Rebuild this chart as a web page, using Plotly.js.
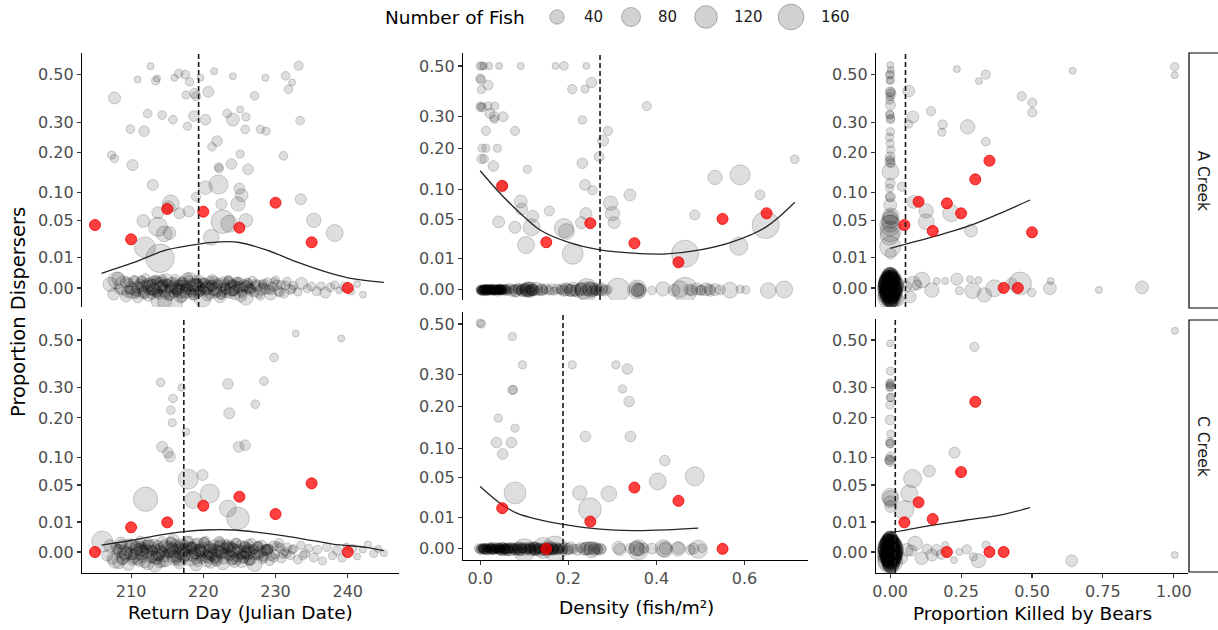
<!DOCTYPE html>
<html><head><meta charset="utf-8">
<script src="https://cdn.plot.ly/plotly-3.0.1.min.js"></script>
<style>html,body{margin:0;padding:0;background:#fff}#chart{width:1218px;height:630px}</style>
</head><body><div id="chart"></div>
<script>
// ---------- shared scale / tick data ----------
const yTickP = [0, 0.01, 0.05, 0.1, 0.2, 0.3, 0.5];
const yTickText = ['0.00','0.01','0.05','0.10','0.20','0.30','0.50'];
const dayTicks = [210, 220, 230, 240];
const densTicks = [0, 0.2, 0.4, 0.6];
const densTickText = ['0.0','0.2','0.4','0.6'];
const bearTicks = [0, 0.25, 0.5, 0.75, 1];
const bearTickText = ['0.00','0.25','0.50','0.75','1.00'];
const legendFish = [40, 80, 120, 160];
const creeks = ['A Creek', 'C Creek'];

// ---------- A Creek : Return Day ----------
const tlUpX = [212.7,210.9,213.4,213.6,216.0,216.6,217.5,218.1,219.6,221.5,
224.1,228.6,231.4,233.2,232.3,231.8,207.7,218.8,219.0,217.6,
220.7,227.1,212.3,214.3,215.8,218.7,220.3,223.3,224.1,225.1,
225.9,233.4,209.9,211.8,217.8,225.8,227.9,228.7,221.9,221.2,
207.3,207.7,210.2,225.1,231.1,222.1,222.2,223.9,226.2,213.0,
220.3,222.1,225.0,225.3,219.0,233.5,215.5,215.2,213.7,216.7,
218.0,222.5,224.8,211.7,213.7,214.6,215.3,222.7,223.6,225.9,
235.3,238.2,221.1,211.9,214.0];
const tlUpP = [0.538,0.475,0.469,0.480,0.483,0.503,0.498,0.465,0.483,0.514,
0.490,0.483,0.492,0.540,0.462,0.432,0.395,0.414,0.402,0.407,
0.421,0.404,0.333,0.327,0.310,0.323,0.310,0.333,0.310,0.348,
0.320,0.306,0.276,0.269,0.286,0.275,0.275,0.269,0.236,0.218,
0.193,0.183,0.165,0.196,0.191,0.160,0.156,0.168,0.154,0.116,
0.110,0.117,0.108,0.094,0.091,0.086,0.078,0.072,0.062,0.061,
0.064,0.077,0.077,0.049,0.041,0.032,0.033,0.048,0.045,0.050,
0.050,0.033,0.028,0.018,0.0096];
const tlUpN = [5,5,8,5,5,10,10,8,5,5,
5,5,10,12,5,10,25,15,12,8,
20,10,10,10,10,18,18,10,30,5,
8,10,10,18,8,10,8,8,18,10,
8,8,20,8,10,10,10,18,18,20,
35,80,20,30,12,20,60,25,25,20,
20,20,40,30,80,50,30,130,60,35,
40,60,50,100,200];
const tlZeroX = [207.1,207.6,208.0,208.4,208.2,209.0,209.3,209.7,210.2,210.5,
210.9,211.1,211.5,211.8,212.0,212.3,212.6,212.9,213.1,213.4,
213.7,213.9,214.2,214.4,214.7,214.9,215.2,215.4,215.6,215.9,
216.1,216.4,216.6,216.9,217.1,217.4,217.6,217.9,218.1,218.4,
218.6,218.9,219.1,219.4,219.6,219.9,220.1,220.4,220.7,220.9,
221.2,221.5,221.8,222.1,222.3,222.6,222.9,223.2,223.5,223.8,
224.1,224.4,224.7,225.0,225.3,225.6,225.9,226.2,226.5,226.8,
227.1,227.5,227.9,228.2,228.6,228.9,229.3,229.6,230.0,230.4,
230.8,231.2,231.6,232.0,232.5,233.1,233.6,234.4,235.0,235.7,
236.3,236.9,237.6,238.2,238.8,239.5,240.5,241.3,242.1,214.0,
216.8,219.0,221.6,224.0,212.2,209.5,226.0,228.0,230.2,218.0,
209.2,209.8,210.4,210.7,211.0,211.4,211.7,212.1,212.4,212.8,
213.2,213.5,213.8,214.1,214.3,214.6,215.0,215.3,215.7,216.0,
216.3,216.7,217.0,217.3,217.7,218.0,218.3,218.8,219.2,219.5,
219.8,220.2,220.6,221.0,221.3,221.7,222.0,222.4,222.8,223.1,
223.4,223.7,224.0,224.3,224.6,225.2,225.5,226.1,226.6,227.2,
227.7,228.4,229.0,229.8,230.6,231.4,232.3,210.0,216.2,220.5,
210.6,211.2,211.9,212.5,213.0,213.6,214.1,214.8,215.3,215.9,
216.5,217.0,217.5,218.2,218.7,219.3,219.8,220.3,220.9,221.4,
222.0,222.5,223.0,223.6,224.2,224.8,225.4,226.0,226.7,227.3,
211.6,212.7,214.4,216.0,217.8,219.6,221.2,223.2,225.0,226.4,
213.3,215.1,218.5,220.0,222.7,224.5,228.3,229.4,210.9,217.2];
const tlZeroJ = [0.012,-0.020,0.025,-0.004,0.031,0.008,-0.028,0.018,-0.010,0.027,
-0.031,0.005,0.022,-0.015,0.033,-0.006,0.014,-0.024,0.002,0.029,
-0.012,0.019,-0.040,0.007,-0.022,0.026,-0.003,-0.046,0.015,-0.018,
0.030,-0.008,0.011,-0.027,0.021,0.000,-0.016,0.034,-0.005,0.017,
-0.024,0.009,0.028,-0.011,0.004,-0.035,0.020,-0.002,0.013,-0.020,
0.006,0.024,-0.014,0.017,-0.029,0.003,0.010,-0.018,0.026,-0.006,
0.014,-0.023,0.001,0.021,-0.012,0.008,-0.033,0.016,-0.004,0.025,
-0.015,0.007,-0.026,0.012,-0.003,0.019,-0.020,0.004,0.026,-0.010,
0.010,-0.018,0.022,-0.005,0.008,-0.013,0.015,-0.002,0.005,-0.011,
0.006,-0.015,0.002,0.010,-0.008,0.004,-0.012,0.013,-0.022,0.010,
-0.010,0.002,-0.004,-0.001,0.008,-0.012,0.003,-0.006,0.010,0.020,
0.018,-0.006,0.022,-0.019,0.003,0.027,-0.013,0.010,-0.026,0.016,
-0.004,0.024,-0.021,0.006,0.030,-0.009,0.014,-0.024,0.002,0.020,
-0.015,0.008,-0.030,0.018,-0.002,0.026,-0.012,0.011,-0.020,0.023,
-0.007,0.015,-0.025,0.005,0.028,-0.014,0.009,-0.022,0.019,-0.003,
0.025,-0.017,0.012,-0.008,0.021,-0.026,0.004,0.016,-0.013,0.007,
-0.019,0.013,-0.006,0.018,-0.015,0.009,-0.004,0.000,-0.002,0.001,
-0.010,0.014,-0.020,0.006,0.024,-0.016,0.002,0.018,-0.026,0.010,
-0.004,0.020,-0.014,0.008,-0.022,0.016,0.000,-0.012,0.024,-0.006,
0.012,-0.024,0.004,0.018,-0.010,0.022,-0.018,0.006,-0.002,0.014,
0.004,-0.008,0.010,-0.004,0.006,-0.010,0.008,-0.006,0.002,-0.002,
-0.016,0.012,-0.018,0.015,-0.014,0.011,0.005,-0.008,-0.015,0.010];
const tlZeroN = [40,25,60,15,30,80,20,12,45,10,
20,8,15,30,10,12,25,8,50,10,
15,10,100,20,12,30,8,150,25,10,
12,20,10,35,15,8,25,12,18,10,
15,30,10,20,12,60,8,25,10,15,
20,10,12,15,25,8,18,10,12,30,
10,15,20,8,12,25,40,10,15,8,
12,20,10,8,15,10,25,12,8,15,
10,12,8,15,10,8,25,8,10,12,
8,20,10,8,5,12,5,5,5,60,
40,50,30,45,35,25,30,20,15,80,
15,10,20,12,25,10,15,12,20,10,
25,12,15,20,10,30,12,15,20,10,
12,25,15,10,20,12,15,25,10,20,
12,15,20,10,15,25,12,10,20,15,
10,20,12,15,10,25,12,15,10,12,
10,15,12,10,12,10,8,30,25,30,
12,15,10,20,12,15,25,10,15,12,
20,10,15,12,20,10,15,12,10,20,
15,10,12,20,15,10,12,15,10,12,
20,15,20,15,20,15,20,15,20,15,
10,12,10,12,10,12,10,8,10,12];
const tlRedX = [205, 210, 215, 220, 225, 230, 235, 240];
const tlRedP = [0.0433, 0.0259, 0.0682, 0.0636, 0.0397, 0.0795, 0.0228, 0];
const tlFitX = [205.9,210.2,214.9,219.35,223.2,225.0,228.7,233.3,237.9,240.6,245.0];
const tlFitP = [0.00236,0.00683,0.0158,0.0211,0.0234,0.0226,0.0158,0.00683,0.00214,0.00094,0.00035];
const tlMedian = 219.35;

// ---------- A Creek : Density ----------
const tmUpX = [0.000,0.004,0.008,0.020,0.043,0.092,0.171,0.190,0.241,0.000,
0.002,0.018,0.003,0.253,0.209,0.238,0.378,0.000,0.005,0.002,
0.018,0.033,0.022,0.032,0.052,0.032,0.013,0.079,0.290,0.232,
0.279,0.004,0.013,0.039,0.003,0.009,0.270,0.714,0.030,0.107,
0.232,0.590,0.533,0.048,0.238,0.255,0.340,0.635,0.092,0.094,
0.157,0.296,0.300,0.240,0.119,0.487,0.042,0.304,0.117,0.079,
0.190,0.196,0.230,0.648,0.104,0.210,0.465,0.587];
const tmUpP = [0.5,0.5,0.5,0.5,0.5,0.5,0.5,0.5,0.5,0.446,
0.44,0.418,0.40,0.429,0.402,0.402,0.337,0.332,0.332,0.338,
0.337,0.337,0.31,0.299,0.299,0.29,0.252,0.252,0.252,0.288,
0.222,0.20,0.20,0.20,0.171,0.171,0.177,0.17,0.153,0.145,
0.16,0.132,0.126,0.106,0.11,0.099,0.09,0.09,0.078,0.065,
0.062,0.075,0.058,0.058,0.054,0.056,0.046,0.045,0.039,0.039,
0.038,0.034,0.045,0.042,0.02,0.013,0.013,0.019];
const tmUpN = [8,8,6,6,5,5,5,10,5,10,
12,15,8,18,12,8,12,10,10,8,
8,8,15,15,15,8,12,12,12,8,
20,8,8,8,12,10,15,10,18,8,
18,90,40,20,20,12,25,15,30,25,
15,40,40,25,25,15,25,25,60,25,
80,50,25,180,60,100,180,70];
const tmZeroX = [0.000,0.003,0.006,0.009,0.012,0.015,0.018,0.021,0.024,0.027,
0.030,0.033,0.036,0.039,0.042,0.045,0.048,0.051,0.055,0.058,
0.062,0.067,0.072,0.076,0.081,0.086,0.091,0.095,0.100,0.104,
0.108,0.112,0.115,0.118,0.122,0.127,0.132,0.138,0.144,0.150,
0.156,0.162,0.168,0.175,0.182,0.190,0.198,0.205,0.212,0.220,
0.228,0.235,0.242,0.248,0.255,0.262,0.270,0.276,0.283,0.290,
0.313,0.356,0.390,0.415,0.440,0.453,0.465,0.480,0.492,0.503,
0.512,0.522,0.533,0.545,0.567,0.590,0.603,0.654,0.690,0.360,
0.060,0.025,0.040,0.010,0.110,0.195,0.215,0.265,0.250,0.140,
0.001,0.004,0.007,0.010,0.013,0.016,0.019,0.022,0.025,0.028,
0.031,0.034,0.037,0.040,0.043,0.046,0.049,0.052,0.002,0.008,
0.014,0.020,0.026,0.032,0.038,0.044,0.050,0.005,0.011,0.017,
0.023,0.029,0.035,0.041,0.047,0.080,0.088,0.097,0.103,0.109,
0.114,0.120,0.186,0.205,0.228,0.240,0.252,0.263,0.275,0.355,
0.357,0.362,0.475,0.500,0.520,
0.003,0.009,0.015,0.021,0.027,0.033,0.039,0.045,0.051,0.057,
0.006,0.012,0.018,0.024,0.030,0.036,0.042,0.048,0.054,0.000];
const tmZeroJ = [0.002,-0.003,0.004,-0.001,0.003,-0.004,0.001,0.004,-0.002,0.000,
0.003,-0.002,0.001,-0.004,0.004,0.000,-0.003,0.002,-0.001,0.003,
-0.002,0.004,-0.003,0.002,-0.004,0.003,0.000,-0.002,0.005,-0.001,
0.002,-0.004,0.003,0.000,-0.002,0.004,-0.003,0.001,-0.001,0.003,
-0.002,0.002,-0.004,0.003,0.000,-0.003,0.004,-0.001,0.002,-0.003,
0.003,-0.002,0.000,0.004,-0.004,0.002,-0.001,0.003,-0.002,0.001,
0.000,0.001,-0.002,0.003,-0.001,0.002,0.000,-0.002,0.003,-0.001,
0.002,-0.003,0.001,0.000,-0.001,0.002,0.000,-0.002,0.001,-0.002,
0.000,0.001,-0.001,0.000,0.000,0.002,-0.002,0.001,0.000,0.000,
-0.003,0.002,-0.001,0.003,-0.004,0.001,0.004,-0.002,0.000,0.003,
-0.003,0.001,0.004,-0.001,0.002,-0.004,0.003,0.000,0.001,-0.002,
0.003,-0.001,0.002,-0.003,0.000,0.004,-0.002,-0.004,0.002,-0.001,
0.003,-0.002,0.001,0.000,0.002,-0.002,0.003,-0.001,0.002,-0.003,
0.001,0.000,0.002,-0.002,0.001,-0.001,0.003,-0.002,0.000,0.002,
-0.001,0.000,0.001,-0.001,0.002,
0.001,-0.002,0.003,-0.001,0.002,-0.003,0.000,0.002,-0.002,0.001,
-0.001,0.002,-0.003,0.001,-0.002,0.003,-0.001,0.000,0.002,-0.002];
const tmZeroN = [8,10,6,12,8,10,15,6,10,8,
12,8,10,15,8,12,10,8,15,10,
10,15,20,12,25,15,10,20,12,30,
40,20,35,25,15,30,12,20,10,15,
12,20,8,15,10,20,15,25,40,30,
25,60,120,40,20,30,15,25,20,10,
130,80,10,40,25,60,150,20,25,15,
30,20,25,15,50,8,8,50,60,40,
20,15,12,18,50,30,20,20,45,25,
6,8,10,6,8,12,6,10,8,6,
10,8,6,12,8,6,10,8,8,6,
10,8,12,6,8,10,6,12,8,10,
6,12,8,10,12,25,20,30,25,20,
15,25,20,25,30,20,25,15,20,40,
30,25,20,15,20,
10,12,8,10,12,8,10,12,8,10,
8,10,12,8,10,12,8,10,12,8];
const tmRedX = [0.05, 0.15, 0.25, 0.35, 0.45, 0.55, 0.65];
const tmRedP = [0.108, 0.0226, 0.0443, 0.0217, 0.0076, 0.0502, 0.0585];
const tmFitX = [0.0,0.045,0.083,0.136,0.196,0.272,0.347,0.423,0.499,0.574,0.650,0.714];
const tmFitP = [0.1415,0.093,0.0637,0.0358,0.0232,0.0159,0.0134,0.0129,0.0159,0.0232,0.0399,0.0765];
const tmMedian = 0.272;

// ---------- A Creek : Proportion Killed by Bears ----------
const trUpX = [0.000,0.002,-0.002,0.001,0.000,0.003,-0.001,0.001,0.000,0.002,
0.001,-0.002,0.000,0.002,0.000,-0.001,0.001,0.000,-0.002,0.001,
0.000,0.002,-0.001,0.000,0.001,0.000,0.002,0.041,0.065,0.080,
0.065,0.144,0.185,0.182,0.235,0.313,0.337,0.464,0.501,0.501,
0.273,0.337,0.643,1.003,1.003,0.082,0.127,0.127,0.215,0.285,
0.001,-0.001,0.002,0.000,-0.002,0.001,0.000,0.002,-0.001,0.001,
0.000,-0.002];
const trUpP = [0.543,0.519,0.496,0.472,0.421,0.411,0.386,0.366,0.327,0.314,
0.267,0.248,0.228,0.208,0.188,0.174,0.148,0.12,0.109,0.091,
0.075,0.056,0.05,0.043,0.035,0.0187,0.013,0.112,0.424,0.32,
0.294,0.342,0.292,0.265,0.524,0.468,0.498,0.402,0.376,0.337,
0.284,0.234,0.516,0.535,0.495,0.081,0.065,0.048,0.061,0.036,
0.50,0.47,0.42,0.40,0.33,0.31,0.18,0.17,0.09,0.055,
0.045,0.03];
const trUpN = [5,5,8,8,15,15,8,15,8,8,
8,8,8,8,15,15,60,15,8,15,
30,60,60,100,100,100,20,12,25,25,
8,12,12,8,5,5,12,12,12,12,
40,10,5,10,5,30,40,50,60,30,
8,5,10,8,8,8,10,12,10,40,
60,80];
const trZeroX = [0.000,0.002,-0.003,0.004,-0.001,0.001,0.003,-0.002,0.000,0.005,
-0.004,0.002,0.000,-0.001,0.003,0.001,-0.002,0.004,0.000,0.002,
-0.003,0.001,0.000,0.002,-0.001,0.056,0.082,0.112,0.147,0.164,
0.194,0.235,0.244,0.282,0.291,0.311,0.332,0.367,0.428,0.458,
0.499,0.563,0.566,0.736,0.888,0.030,0.070,0.095,
0.001,-0.001,0.002,-0.003,0.000,0.003,-0.002,0.001,0.004,-0.004,
0.000,0.002,-0.001,0.003,-0.002,0.001,0.000,-0.003,0.002,0.004,
-0.001,0.000,0.003,-0.002,0.001,0.002,-0.004,0.000,0.001,-0.001];
const trZeroJ = [0.040,0.030,0.022,0.012,0.005,-0.004,-0.012,-0.020,-0.030,-0.038,
0.035,0.018,0.000,-0.025,0.026,-0.008,0.045,-0.045,0.008,-0.016,
0.002,0.032,-0.034,0.015,-0.003,0.004,0.015,0.026,-0.007,0.023,
0.023,0.029,-0.009,0.029,-0.009,0.026,-0.023,-0.001,0.015,0.015,
-0.015,-0.001,0.023,-0.007,0.002,-0.040,-0.030,0.010,
0.043,0.036,0.028,0.020,0.013,0.006,-0.001,-0.008,-0.015,-0.022,
-0.029,-0.036,-0.043,0.039,0.024,0.009,-0.006,-0.021,-0.035,0.031,
0.017,0.002,-0.013,-0.027,0.046,-0.046,0.011,-0.018,0.027,-0.031];
const trZeroN = [60,100,80,150,60,120,100,80,150,60,
40,80,100,120,50,30,40,30,60,50,
80,30,40,25,100,20,40,50,40,5,
5,25,8,5,50,5,40,60,20,120,
10,30,5,5,30,20,25,15,
40,60,80,100,120,150,120,100,80,60,
40,60,50,30,100,150,150,100,40,60,
120,150,120,80,30,30,80,100,80,60];
const trRedX = [0.05, 0.10, 0.15, 0.20, 0.25, 0.30, 0.35, 0.40, 0.45, 0.50];
const trRedP = [0.0433, 0.0813, 0.0355, 0.0783, 0.0609, 0.129, 0.177, 0, 0, 0.0339];
const trFitX = [0, 0.1525, 0.27, 0.387, 0.493];
const trFitP = [0.0172, 0.0288, 0.041, 0.0609, 0.0846];
const trMedian = 0.054;

// ---------- C Creek : Return Day ----------
const blUpX = [232.8,239.1,229.8,214.1,217.0,223.4,228.4,215.8,227.2,215.5,
223.6,215.7,217.6,214.3,215.1,215.4,224.9,225.8,219.9,217.9,
220.9,212.0,218.6,223.4,224.8];
const blUpP = [0.531,0.507,0.421,0.32,0.301,0.314,0.325,0.262,0.243,0.224,
0.214,0.186,0.161,0.123,0.11,0.101,0.123,0.127,0.066,0.059,
0.038,0.031,0.03,0.021,0.0126];
const blUpN = [5,5,10,10,6,18,10,10,10,10,
20,8,6,20,18,18,18,18,20,90,
80,140,60,60,120];
const blZeroX = [206.0,206.7,207.1,207.8,208.0,208.6,208.9,209.4,209.6,210.1,
210.3,210.7,210.9,211.3,211.5,211.9,212.1,212.4,212.8,213.0,
213.3,213.7,213.9,214.3,214.5,214.8,215.2,215.4,215.8,216.0,
216.3,216.7,216.9,217.3,217.5,217.8,218.2,218.4,218.8,219.0,
219.3,219.7,219.9,220.3,220.5,220.9,221.1,221.5,221.7,222.1,
222.3,222.7,222.9,223.3,223.5,223.9,224.1,224.5,224.7,225.1,
225.3,225.7,225.9,226.3,226.5,226.9,227.1,227.5,227.7,228.1,
228.4,228.9,229.2,229.7,230.0,230.5,230.8,231.3,231.6,232.1,
232.5,233.1,233.5,234.1,234.6,235.3,235.8,236.5,237.1,237.9,
238.5,239.2,239.8,240.7,241.3,242.1,242.8,243.6,245.0,244.2,
209.1,211.3,213.4,215.7,216.9,219.4,221.6,223.3,225.8,227.4,
210.4,212.6,214.3,216.4,218.7,220.6,222.2,224.6,226.3,228.6,
207.4,207.9,208.3,208.7,209.2,209.8,210.2,210.8,211.1,211.6,
212.0,212.3,212.9,213.2,213.5,214.0,214.4,214.7,215.0,215.5,
215.9,216.2,216.5,217.0,217.4,217.7,218.0,218.5,218.9,219.2,
219.5,219.8,220.1,220.4,220.7,221.0,221.3,221.8,222.2,222.5,
222.8,223.1,223.6,224.0,224.3,224.8,225.2,225.5,226.0,226.4,
226.7,227.0,227.6,228.2,228.7,229.4,230.2,231.0,232.3,233.8,
208.4,210.9,212.2,213.8,215.6,217.6,219.1,220.9,222.4,224.2,
226.1,227.9,211.4,214.6,218.3,221.2,223.7,225.6,229.0,216.6,
208.2,208.8,209.5,210.0,210.6,211.2,211.8,212.3,212.9,213.4,
214.0,214.5,215.1,215.6,216.2,216.8,217.3,217.9,218.4,219.0,
219.6,220.1,220.7,221.3,221.8,222.4,222.9,223.5,224.1,224.6,
225.2,225.8,226.4,227.0,227.6,228.3,229.0,229.8,230.6,231.5,
209.3,211.7,213.6,215.9,217.5,219.8,221.9,223.9,226.2,228.8];
const blZeroJ = [0.035,-0.012,0.020,-0.030,0.008,0.030,-0.018,0.002,-0.040,0.025,
-0.008,0.015,-0.025,0.038,-0.002,-0.033,0.012,0.028,-0.015,0.005,
-0.045,0.022,-0.010,0.033,0.000,-0.028,0.016,-0.005,0.040,-0.020,
0.010,-0.036,0.026,-0.012,0.004,0.035,-0.024,0.018,-0.003,-0.042,
0.028,-0.014,0.008,0.037,-0.030,0.015,-0.006,0.024,-0.020,0.002,
0.033,-0.038,0.012,-0.008,0.021,-0.026,0.006,0.030,-0.015,0.000,
-0.032,0.018,-0.004,0.027,-0.022,0.010,-0.040,0.014,-0.010,0.024,
-0.018,0.006,-0.030,0.020,-0.008,0.030,-0.020,0.002,0.015,-0.012,
0.010,-0.025,0.022,-0.005,0.012,-0.018,0.008,-0.030,0.016,-0.012,
0.005,-0.020,0.018,0.012,-0.015,0.008,0.025,-0.005,-0.004,0.010,
0.000,0.008,-0.020,0.012,-0.002,0.005,-0.012,0.015,0.000,-0.005,
-0.020,0.020,0.005,-0.015,0.012,-0.010,0.018,-0.022,0.010,0.005,
-0.022,0.014,-0.036,0.026,-0.010,0.018,-0.028,0.008,0.030,-0.016,
0.022,-0.038,0.004,0.028,-0.020,0.012,-0.032,0.020,-0.006,0.034,
-0.014,0.024,-0.030,0.010,-0.024,0.016,0.036,-0.010,0.026,-0.034,
0.006,-0.022,0.030,-0.014,0.020,-0.036,0.012,-0.026,0.034,-0.004,
-0.020,0.026,-0.012,0.018,-0.030,0.008,0.024,-0.018,0.014,-0.028,
0.030,-0.008,0.018,-0.024,0.010,-0.014,0.020,-0.006,0.008,-0.012,
0.004,-0.004,0.002,-0.002,0.006,-0.006,0.000,0.003,-0.003,0.005,
-0.005,0.001,0.015,-0.015,0.012,-0.012,0.016,-0.016,0.010,0.018,
0.010,-0.024,0.028,-0.006,0.018,-0.030,0.004,0.024,-0.016,0.012,
-0.034,0.020,-0.002,0.030,-0.022,0.008,0.026,-0.012,0.016,-0.026,
0.004,0.032,-0.018,0.010,-0.028,0.022,-0.004,0.014,-0.020,0.028,
-0.010,0.018,-0.026,0.006,0.020,-0.014,0.010,-0.020,0.014,-0.006,
-0.004,0.006,-0.008,0.002,0.008,-0.002,0.004,-0.006,0.000,0.006];
const blZeroN = [100,20,30,40,15,25,35,12,30,20,
15,30,20,12,40,25,15,20,30,12,
35,15,25,20,12,30,20,15,25,40,
15,25,20,30,12,20,35,15,25,30,
20,15,40,12,25,20,30,15,20,25,
12,30,20,15,25,20,35,15,20,30,
25,15,20,12,30,15,45,20,15,12,
15,20,12,15,10,12,15,10,12,8,
10,12,8,10,8,12,10,8,10,8,
12,8,5,8,5,5,5,8,5,5,
40,30,35,25,40,30,35,25,30,20,
20,25,15,20,25,15,20,25,15,20,
20,15,25,12,30,20,15,25,12,20,
15,30,20,12,25,15,20,30,12,15,
25,20,15,30,12,20,15,25,20,12,
30,15,20,25,12,20,15,30,20,15,
25,12,20,15,30,20,12,25,15,20,
12,20,15,12,15,12,10,12,8,10,
30,35,30,40,35,30,40,35,30,35,
30,25,20,20,25,20,20,25,15,20,
15,20,12,25,15,20,12,15,25,12,
20,15,12,20,15,25,12,20,15,12,
20,15,25,12,15,20,12,15,25,15,
12,20,15,12,15,12,15,10,12,10,
30,25,30,25,30,25,30,25,30,20];
const blRedX = [205, 210, 215, 220, 225, 230, 235, 240];
const blRedP = [0, 0.0068, 0.0098, 0.0238, 0.034, 0.016, 0.0524, 0];
const blFitX = [205.9,210.3,213.9,217.3,220.4,224.1,228.7,233.3,237.9,242.5,245.0];
const blFitP = [0.00054,0.0016,0.0032,0.00458,0.00538,0.00538,0.00388,0.00209,0.00071,0.000245,0.0000188];
const blMedian = 217.3;

// ---------- C Creek : Density ----------
const bmUpX = [0.000,0.003,0.073,0.096,0.209,0.308,0.334,0.073,0.075,0.323,
0.338,0.041,0.079,0.239,0.341,0.037,0.071,0.051,0.419,0.403,
0.487,0.079,0.226,0.292,0.249];
const bmUpP = [0.504,0.50,0.446,0.335,0.335,0.335,0.32,0.25,0.25,0.253,
0.215,0.169,0.144,0.125,0.125,0.112,0.112,0.089,0.077,0.045,
0.052,0.031,0.031,0.030,0.0156];
const bmUpN = [8,8,8,8,8,8,18,12,10,8,
18,8,8,18,18,18,18,18,18,60,
80,110,40,50,120];
const bmZeroX = [-0.004,0.000,0.004,0.008,0.012,0.016,0.020,0.024,0.028,0.032,
0.036,0.040,0.044,0.048,0.052,0.056,0.060,0.065,0.070,0.075,
0.080,0.085,0.090,0.095,0.100,0.105,0.110,0.115,0.120,0.126,
0.132,0.138,0.143,0.148,0.154,0.160,0.166,0.170,0.175,0.180,
0.186,0.192,0.198,0.205,0.212,0.220,0.228,0.236,0.244,0.253,
0.260,0.268,0.276,0.314,0.317,0.340,0.356,0.359,0.372,0.390,
0.416,0.419,0.449,0.450,0.477,0.484,0.495,0.503,0.050,0.150,
0.010,0.030,0.045,0.090,0.125,0.165,0.200,0.240,0.026,0.062,
0.002,0.006,0.010,0.014,0.018,0.022,0.026,0.030,0.034,0.038,
0.042,0.046,0.050,0.054,0.058,0.063,0.068,0.073,0.078,0.083,
0.088,0.093,0.098,0.103,0.108,0.113,0.118,0.123,0.129,0.135,
0.141,0.146,0.152,0.158,0.163,0.168,0.173,0.178,0.183,0.188,
0.001,0.009,0.017,0.025,0.033,0.041,0.049,0.057,0.250,0.258,
0.265,0.272,0.355,0.362,0.420,
0.005,0.015,0.025,0.035,0.045,0.055,0.065,0.075,0.085,0.095,
0.105,0.115,0.125,0.135,0.145,0.155,0.165,0.175,0.020,0.060];
const bmZeroJ = [0.002,-0.003,0.004,-0.001,0.003,-0.004,0.001,0.004,-0.002,0.000,
0.003,-0.002,0.001,-0.004,0.004,0.000,-0.003,0.002,-0.001,0.003,
-0.002,0.004,-0.003,0.002,-0.004,0.003,0.000,-0.002,0.005,-0.001,
0.002,-0.004,0.003,0.000,-0.002,0.004,-0.003,0.001,-0.001,0.003,
-0.002,0.002,-0.004,0.003,0.000,-0.003,0.004,-0.001,0.002,-0.003,
0.003,-0.002,0.000,0.004,-0.002,0.001,0.000,-0.003,0.002,0.001,
0.002,-0.002,0.000,0.003,-0.003,0.001,-0.001,0.002,0.000,0.000,
0.000,0.001,-0.001,0.000,0.001,-0.001,0.000,0.001,-0.002,0.002,
-0.003,0.002,-0.001,0.003,-0.004,0.001,0.004,-0.002,0.000,0.003,
-0.003,0.001,0.004,-0.001,0.002,-0.004,0.003,0.000,-0.002,0.002,
-0.003,0.001,0.003,-0.002,0.000,0.004,-0.003,0.001,-0.001,0.002,
-0.004,0.003,0.000,-0.002,0.002,-0.001,0.003,-0.003,0.001,0.000,
0.001,-0.001,0.002,-0.002,0.000,0.003,-0.003,0.001,0.002,-0.002,
0.001,-0.001,0.002,-0.002,0.001,
0.001,-0.002,0.003,-0.001,0.002,-0.003,0.000,0.002,-0.002,0.001,
-0.001,0.002,-0.003,0.001,-0.002,0.003,-0.001,0.000,0.002,-0.002];
const bmZeroN = [10,12,8,15,10,12,8,15,10,12,
15,10,12,20,10,15,25,12,30,15,
20,15,25,12,120,20,15,25,20,30,
15,25,100,20,15,30,12,150,20,15,
12,20,15,25,12,20,15,25,30,50,
25,15,12,30,25,15,40,90,15,20,
60,50,40,25,15,20,70,10,30,40,
20,25,20,35,30,25,20,30,15,20,
8,10,12,8,10,15,8,12,10,15,
12,8,15,10,12,20,15,12,20,15,
12,20,15,25,12,20,15,25,12,20,
15,12,20,15,25,12,20,15,12,15,
10,12,10,12,10,12,10,15,30,25,
20,25,40,30,25,
10,12,8,10,12,15,10,12,15,10,
15,12,20,12,15,12,20,12,10,15];
const bmRedX = [0.05, 0.15, 0.25, 0.35, 0.45, 0.55];
const bmRedP = [0.0164, 0, 0.0074, 0.0372, 0.0228, 0];
const bmFitX = [0.0,0.045,0.083,0.136,0.196,0.272,0.347,0.423,0.495];
const bmFitP = [0.0384,0.0206,0.0126,0.0083,0.0057,0.00384,0.0033,0.00357,0.00424];
const bmMedian = 0.188;

// ---------- C Creek : Proportion Killed by Bears ----------
const brUpX = [0.000,0.001,-0.002,0.002,0.000,0.001,-0.001,0.000,0.002,-0.001,
0.000,0.002,-0.002,0.001,0.000,-0.001,0.002,0.297,1.004,0.227,
0.138,0.079,0.067,0.050,0.001,-0.001,0.002,0.000,-0.002,0.001];
const brUpP = [0.484,0.364,0.314,0.318,0.304,0.266,0.240,0.194,0.155,0.135,
0.131,0.101,0.094,0.091,0.034,0.028,0.023,0.468,0.544,0.110,
0.073,0.060,0.038,0.0196,0.31,0.30,0.265,0.13,0.095,0.032];
const brUpN = [5,8,8,8,8,8,8,15,8,8,
8,15,15,15,60,25,25,12,5,20,
25,70,60,80,8,8,8,10,12,50];
const brZeroX = [0.001,-0.002,0.003,0.000,-0.003,0.002,0.004,-0.001,0.000,0.003,
-0.004,0.001,0.002,-0.002,0.000,0.003,-0.001,0.001,0.004,-0.003,
0.000,0.002,-0.002,0.001,0.000,0.059,0.088,0.111,0.147,0.164,
0.194,0.225,0.244,0.270,0.293,0.311,0.338,0.640,1.003,0.040,
0.075,0.130,0.180,
0.002,-0.001,0.000,0.003,-0.003,0.001,0.004,-0.002,0.000,0.002,
-0.004,0.001,0.003,-0.001,0.000,0.002,-0.002,0.004,0.001,-0.003,
0.000,0.003,-0.001,0.002,0.000,-0.002,0.001,0.003,-0.004,0.000];
const brZeroJ = [0.042,0.033,0.024,0.015,0.006,-0.003,-0.012,-0.021,-0.030,-0.040,
0.038,0.020,-0.002,-0.027,0.028,-0.010,0.047,-0.046,0.010,-0.017,
0.003,0.030,-0.036,0.014,-0.006,0.007,0.029,-0.021,-0.010,0.007,
0.023,-0.027,0.000,0.009,-0.016,-0.029,0.023,-0.029,-0.010,-0.020,
0.005,0.010,-0.008,
0.045,0.037,0.029,0.021,0.013,0.005,-0.002,-0.009,-0.016,-0.024,
-0.031,-0.038,-0.044,0.040,0.025,0.010,-0.005,-0.019,-0.034,0.033,
0.018,0.001,-0.012,-0.026,0.048,-0.048,0.012,-0.020,0.026,-0.033];
const brZeroN = [50,80,100,150,60,120,100,80,150,60,
40,80,100,120,50,30,40,30,60,50,
80,30,40,25,100,30,40,30,25,20,
5,5,5,12,8,40,8,25,5,25,
20,15,15,
40,60,80,100,120,150,120,100,80,60,
40,60,50,30,100,150,150,100,40,60,
120,150,120,80,30,30,80,100,80,60];
const brRedX = [0.05, 0.10, 0.15, 0.20, 0.25, 0.30, 0.35, 0.40];
const brRedP = [0.0098, 0.0274, 0.0121, 0, 0.0711, 0.251, 0, 0];
const brFitX = [0, 0.1525, 0.27, 0.387, 0.493];
const brFitP = [0.00414, 0.0081, 0.0114, 0.0152, 0.0218];
const brMedian = 0.018;

// ---------- drawing ----------
const W = 1218, H = 630;
const FONT = 'DejaVu Sans';
const px = v => v / W;
const py = v => 1 - v / H;
const sz = n => 3 + 1.8 * Math.sqrt(n);
const sq = v => Math.sqrt(v);
const GRAY = 'rgba(0,0,0,0.18)';
const EDGE = 'rgba(0,0,0,0.26)';

const colX = [[82, 399], [463, 808], [876, 1188]];
const rowY = [[[53, 307], [319, 573]], [[53, 300], [312, 560]], [[53, 307], [319, 573]]];
const yRanges = [[[-0.063, 0.777], [-0.070, 0.777]], [[-0.032, 0.748], [-0.035, 0.745]], [[-0.063, 0.777], [-0.070, 0.777]]];
const xRanges = [[203.2, 247.1], [-0.039, 0.744], [-0.05, 1.05]];
const xTickVals = [dayTicks, densTicks, bearTicks];
const xTickText = [dayTicks.map(String), densTickText, bearTickText];

const panels = [
  {r:0,c:0, upX:tlUpX, upP:tlUpP, upN:tlUpN, zX:tlZeroX, zJ:tlZeroJ, zN:tlZeroN, rX:tlRedX, rP:tlRedP, fX:tlFitX, fP:tlFitP, med:tlMedian},
  {r:0,c:1, upX:tmUpX, upP:tmUpP, upN:tmUpN, zX:tmZeroX, zJ:tmZeroJ, zN:tmZeroN, rX:tmRedX, rP:tmRedP, fX:tmFitX, fP:tmFitP, med:tmMedian},
  {r:0,c:2, upX:trUpX, upP:trUpP, upN:trUpN, zX:trZeroX, zJ:trZeroJ, zN:trZeroN, rX:trRedX, rP:trRedP, fX:trFitX, fP:trFitP, med:trMedian},
  {r:1,c:0, upX:blUpX, upP:blUpP, upN:blUpN, zX:blZeroX, zJ:blZeroJ, zN:blZeroN, rX:blRedX, rP:blRedP, fX:blFitX, fP:blFitP, med:blMedian},
  {r:1,c:1, upX:bmUpX, upP:bmUpP, upN:bmUpN, zX:bmZeroX, zJ:bmZeroJ, zN:bmZeroN, rX:bmRedX, rP:bmRedP, fX:bmFitX, fP:bmFitP, med:bmMedian},
  {r:1,c:2, upX:brUpX, upP:brUpP, upN:brUpN, zX:brZeroX, zJ:brZeroJ, zN:brZeroN, rX:brRedX, rP:brRedP, fX:brFitX, fP:brFitP, med:brMedian}
];

const traces = [];
const layout = {
  width: W, height: H, margin: {l:0, r:0, t:0, b:0},
  paper_bgcolor: '#fff', plot_bgcolor: '#fff', showlegend: false,
  font: {family: FONT, color: '#1a1a1a'},
  shapes: [], annotations: []
};

panels.forEach((p, i) => {
  const k = i + 1;
  const xa = k === 1 ? 'x' : 'x' + k;
  const ya = k === 1 ? 'y' : 'y' + k;
  const xr = colX[p.c], yr = rowY[p.c][p.r];
  const bottom = p.r === 1;
  layout[k === 1 ? 'xaxis' : 'xaxis' + k] = {
    domain: [px(xr[0]), px(xr[1])], anchor: ya, range: xRanges[p.c],
    showgrid: false, zeroline: false, fixedrange: true,
    showline: bottom, linecolor: '#000', linewidth: 1.1,
    ticks: bottom ? 'outside' : '', ticklen: 4, tickcolor: '#333', tickwidth: 1.1,
    showticklabels: bottom, tickvals: xTickVals[p.c], ticktext: xTickText[p.c],
    tickfont: {family: FONT, size: 16, color: '#4d4d4d'}
  };
  layout[k === 1 ? 'yaxis' : 'yaxis' + k] = {
    domain: [py(yr[1]), py(yr[0])], anchor: xa, range: yRanges[p.c][p.r],
    showgrid: false, zeroline: false, fixedrange: true,
    showline: true, linecolor: '#000', linewidth: 1.1,
    ticks: 'outside', ticklen: 4, tickcolor: '#333', tickwidth: 1.1,
    tickvals: yTickP.map(sq), ticktext: yTickText,
    tickfont: {family: FONT, size: 16, color: '#4d4d4d'}
  };
  traces.push({type:'scatter', mode:'markers', xaxis:xa, yaxis:ya, x:p.zX, y:p.zJ, hoverinfo:'skip',
    marker:{size:p.zN.map(sz), color:GRAY, line:{color:EDGE, width:1}}});
  traces.push({type:'scatter', mode:'markers', xaxis:xa, yaxis:ya, x:p.upX, y:p.upP.map(sq), hoverinfo:'skip',
    marker:{size:p.upN.map(sz), color:GRAY, line:{color:EDGE, width:1}}});
  traces.push({type:'scatter', mode:'lines', xaxis:xa, yaxis:ya, x:p.fX, y:p.fP.map(sq), hoverinfo:'skip',
    line:{color:'#262626', width:1.3, shape:'spline'}});
  traces.push({type:'scatter', mode:'markers', xaxis:xa, yaxis:ya, x:p.rX, y:p.rP.map(sq), hoverinfo:'skip',
    marker:{size:11, color:'rgba(255,0,0,0.75)', line:{color:'rgba(235,0,0,0.8)', width:1}}});
  layout.shapes.push({type:'line', xref:xa, yref:ya + ' domain', x0:p.med, x1:p.med, y0:0, y1:1,
    line:{color:'#1a1a1a', width:1.6, dash:'5px,3px'}});
});

// facet strips on the right
const stripY = [[53, 308], [320, 572]];
creeks.forEach((name, r) => {
  layout.shapes.push({type:'rect', xref:'paper', yref:'paper', x0:px(1189), x1:px(1230),
    y0:py(stripY[r][1]), y1:py(stripY[r][0]), line:{color:'#000', width:1.2}, fillcolor:'#fff'});
  layout.annotations.push({xref:'paper', yref:'paper', x:px(1203), y:py((stripY[r][0] + stripY[r][1]) / 2),
    text:name, showarrow:false, textangle:90, xanchor:'center', yanchor:'middle',
    font:{family:FONT, size:15.5, color:'#1a1a1a'}});
});

// axis titles
const titleFont = {family: FONT, size: 18.5, color: '#000'};
layout.annotations.push({xref:'paper', yref:'paper', x:px(18), y:py(312), text:'Proportion Dispersers',
  textangle:-90, showarrow:false, xanchor:'center', yanchor:'middle', font:{family:FONT, size:19.5, color:'#000'}});
layout.annotations.push({xref:'paper', yref:'paper', x:px(240), y:py(612), text:'Return Day (Julian Date)',
  showarrow:false, xanchor:'center', yanchor:'middle', font:titleFont});
layout.annotations.push({xref:'paper', yref:'paper', x:px(636), y:py(607), text:'Density (fish/m²)',
  showarrow:false, xanchor:'center', yanchor:'middle', font:titleFont});
layout.annotations.push({xref:'paper', yref:'paper', x:px(1032), y:py(613), text:'Proportion Killed by Bears',
  showarrow:false, xanchor:'center', yanchor:'middle', font:titleFont});

// size legend
layout.annotations.push({xref:'paper', yref:'paper', x:px(455), y:py(17), text:'Number of Fish',
  showarrow:false, xanchor:'center', yanchor:'middle', font:{family:FONT, size:18.5, color:'#000'}});
const legX = [557, 631, 706, 791];
const legLabX = [593, 667, 748, 835];
legendFish.forEach((n, i) => {
  const r = sz(n) / 2;
  layout.shapes.push({type:'circle', xref:'paper', yref:'paper', xsizemode:'pixel', ysizemode:'pixel',
    xanchor:px(legX[i]), yanchor:py(17), x0:-r, x1:r, y0:-r, y1:r,
    fillcolor:GRAY, line:{color:EDGE, width:1}});
  layout.annotations.push({xref:'paper', yref:'paper', x:px(legLabX[i]), y:py(17), text:String(n),
    showarrow:false, xanchor:'center', yanchor:'middle', font:{family:FONT, size:15, color:'#1a1a1a'}});
});

Plotly.newPlot('chart', traces, layout, {displayModeBar:false, staticPlot:true});
</script>
</body></html>
